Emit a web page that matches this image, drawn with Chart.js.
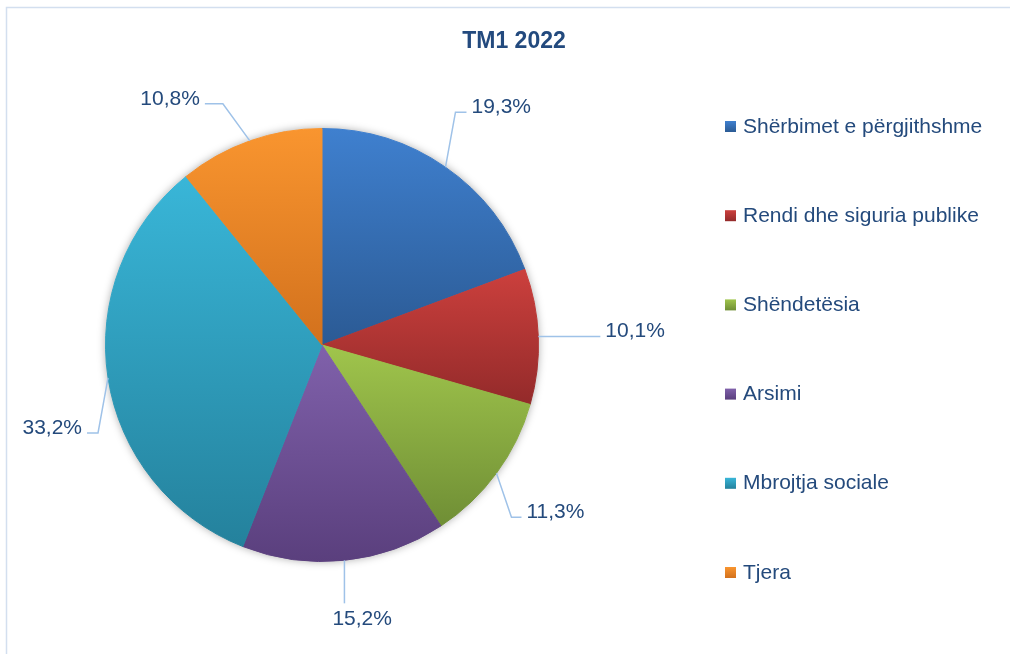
<!DOCTYPE html>
<html>
<head>
<meta charset="utf-8">
<script src="https://cdn.jsdelivr.net/npm/chart.js@4.4.1/dist/chart.umd.min.js"></script>
<style>
  html, body { margin: 0; padding: 0; background: #fff; }
  #wrap { position: relative; width: 1010px; height: 654px; }
</style>
</head>
<body>
<div id="wrap"><canvas id="tm1chart" width="1010" height="654"></canvas></div>
<script>
var titulli = 'TM1 2022';
var kategorite = ['Shërbimet e përgjithshme', 'Rendi dhe siguria publike', 'Shëndetësia', 'Arsimi', 'Mbrojtja sociale', 'Tjera'];
var vlerat = [19.3, 10.1, 11.3, 15.2, 33.2, 10.8];
var etiketat = ['19,3%', '10,1%', '11,3%', '15,2%', '33,2%', '10,8%'];

// each slice is shaded from a lighter top to a darker bottom
var ngjyratSiper = ['#3f80cf', '#cc403d', '#a0c54c', '#8061ab', '#39b6d8', '#f9952f'];
var ngjyratPoshte = ['#2b5a94', '#932a2a', '#6f8e35', '#5a3f7d', '#24819c', '#d2711d'];

// leader lines: elbow offset from the slice edge, then a short horizontal tail
var lidhjet = [
  { dx: 10, dy: -55, tail: 11, side: 'r' },
  { dx: 62, dy: 0, tail: 0, side: 'r' },
  { dx: 15, dy: 44, tail: 10, side: 'r' },
  { dx: 0, dy: 43, tail: 0, side: 'b' },
  { dx: -10, dy: 55, tail: 11, side: 'l' },
  { dx: -27, dy: -37, tail: 18, side: 'l' }
];

var FONT = "'Liberation Sans', Arial, sans-serif";
var TEXT_COLOR = '#244a7c';
var LINE_COLOR = '#9fc2e8';

function sliceGradient(context) {
  var chart = context.chart;
  var area = chart.chartArea;
  var i = context.dataIndex;
  if (!area) { return ngjyratSiper[i]; }
  var cx = (area.left + area.right) / 2;
  var cy = (area.top + area.bottom) / 2;
  var r = Math.min(area.right - area.left, area.bottom - area.top) / 2;
  var total = 0, before = 0;
  for (var k = 0; k < vlerat.length; k++) {
    total += vlerat[k];
    if (k < i) { before += vlerat[k]; }
  }
  var a0 = -Math.PI / 2 + 2 * Math.PI * before / total;
  var a1 = a0 + 2 * Math.PI * vlerat[i] / total;
  var ys = [cy, cy + r * Math.sin(a0), cy + r * Math.sin(a1)];
  [-Math.PI / 2, Math.PI / 2, 3 * Math.PI / 2].forEach(function (a) {
    if (a >= a0 - 1e-9 && a <= a1 + 1e-9) { ys.push(cy + r * Math.sin(a)); }
  });
  var g = chart.ctx.createLinearGradient(0, Math.min.apply(null, ys), 0, Math.max.apply(null, ys));
  g.addColorStop(0, ngjyratSiper[i]);
  g.addColorStop(1, ngjyratPoshte[i]);
  return g;
}

var pieShadow = {
  id: 'pieShadow',
  beforeDatasetsDraw: function (chart) {
    var a = chart.getDatasetMeta(0).data[0];
    if (!a) { return; }
    var ctx = chart.ctx;
    ctx.save();
    ctx.shadowColor = 'rgba(0,0,0,0.35)';
    ctx.shadowBlur = 8;
    ctx.beginPath();
    ctx.arc(a.x, a.y, a.outerRadius, 0, 2 * Math.PI);
    ctx.fillStyle = '#ffffff';
    ctx.fill();
    ctx.restore();
  }
};

var sliceLabels = {
  id: 'sliceLabels',
  afterDatasetsDraw: function (chart) {
    var ctx = chart.ctx;
    var arcs = chart.getDatasetMeta(0).data;
    ctx.save();
    ctx.font = '21px ' + FONT;
    ctx.textBaseline = 'alphabetic';
    arcs.forEach(function (arc, i) {
      var mid = (arc.startAngle + arc.endAngle) / 2;
      var ax = arc.x + arc.outerRadius * Math.cos(mid);
      var ay = arc.y + arc.outerRadius * Math.sin(mid);
      var l = lidhjet[i];
      var ex = ax + l.dx, ey = ay + l.dy;
      var tx = ex;
      if (l.side === 'r') { tx = ex + l.tail; }
      if (l.side === 'l') { tx = ex - l.tail; }

      ctx.strokeStyle = LINE_COLOR;
      ctx.lineWidth = 1.5;
      ctx.beginPath();
      ctx.moveTo(ax, ay);
      ctx.lineTo(ex, ey);
      ctx.lineTo(tx, ey);
      ctx.stroke();

      ctx.fillStyle = TEXT_COLOR;
      if (l.side === 'r') {
        ctx.textAlign = 'left';
        ctx.fillText(etiketat[i], tx + 5, ey + 1);
      } else if (l.side === 'l') {
        ctx.textAlign = 'right';
        ctx.fillText(etiketat[i], tx - 5, ey + 1);
      } else {
        ctx.textAlign = 'left';
        ctx.fillText(etiketat[i], ex - 12, ey + 22);
      }
    });
    ctx.restore();
  }
};

var frameTitleLegend = {
  id: 'frameTitleLegend',
  beforeDraw: function (chart) {
    var ctx = chart.ctx;
    ctx.save();
    ctx.strokeStyle = '#d3dfef';
    ctx.lineWidth = 1.5;
    ctx.strokeRect(6.5, 7.5, 1020, 670);
    ctx.restore();
  },
  afterDraw: function (chart) {
    var ctx = chart.ctx;
    ctx.save();
    ctx.fillStyle = '#234a7e';
    ctx.font = 'bold 23px ' + FONT;
    ctx.textAlign = 'center';
    ctx.textBaseline = 'alphabetic';
    ctx.fillText(titulli, 514, 48);

    ctx.font = '21px ' + FONT;
    ctx.textAlign = 'left';
    for (var i = 0; i < kategorite.length; i++) {
      var yc = 126.5 + i * 89.2;
      var g = ctx.createLinearGradient(0, yc - 5.5, 0, yc + 5.5);
      g.addColorStop(0, ngjyratSiper[i]);
      g.addColorStop(1, ngjyratPoshte[i]);
      ctx.fillStyle = g;
      ctx.fillRect(725, yc - 5.5, 11, 11);
      ctx.fillStyle = TEXT_COLOR;
      ctx.fillText(kategorite[i], 743, yc + 6);
    }
    ctx.restore();
  }
};

new Chart(document.getElementById('tm1chart'), {
  type: 'pie',
  data: {
    labels: kategorite,
    datasets: [{
      data: vlerat,
      backgroundColor: sliceGradient,
      borderColor: sliceGradient,
      borderWidth: 1
    }]
  },
  options: {
    responsive: false,
    animation: false,
    layout: {
      padding: { left: 105, right: 471, top: 128, bottom: 92 }
    },
    plugins: {
      legend: { display: false },
      title: { display: false },
      tooltip: { enabled: false }
    }
  },
  plugins: [frameTitleLegend, pieShadow, sliceLabels]
});
</script>
</body>
</html>
